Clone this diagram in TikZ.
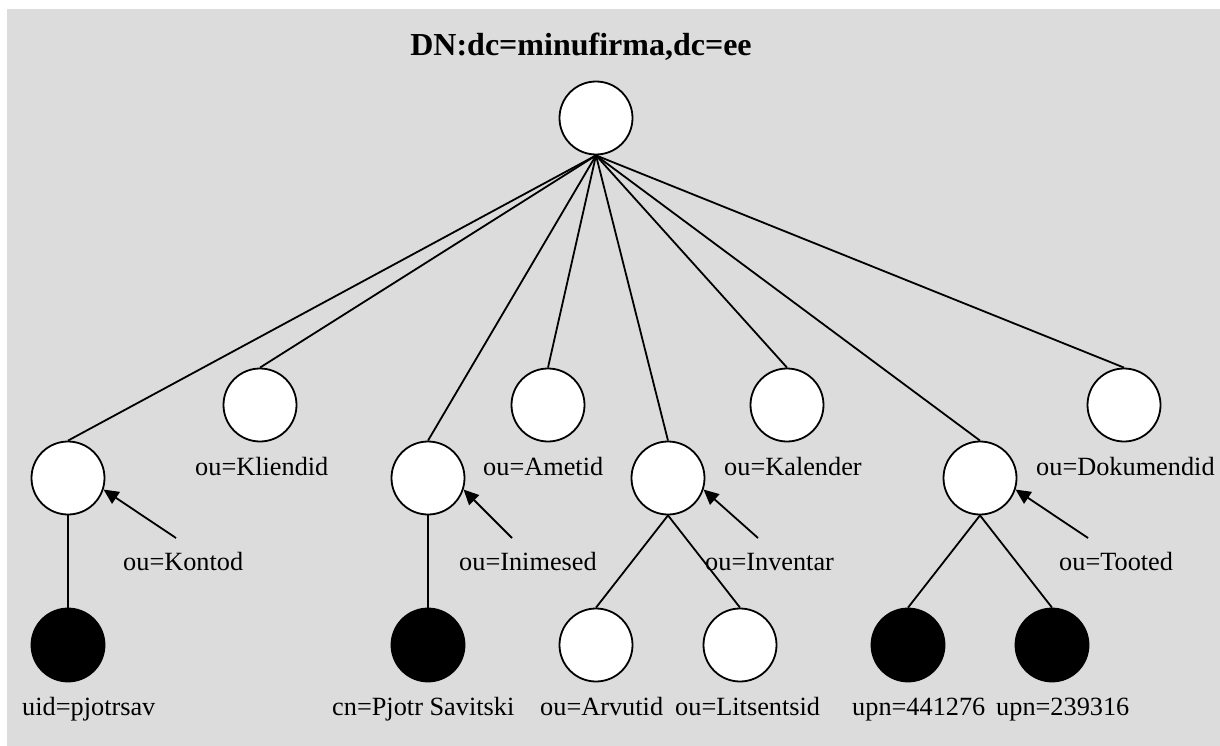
\documentclass[tikz,border=0pt]{standalone}
\usepackage{fontspec}
\setmainfont{Liberation Serif}
\usetikzlibrary{arrows.meta}
\definecolor{bg}{HTML}{DCDCDC}
\begin{document}
\begin{tikzpicture}[x=1pt,y=-1pt,
  wnode/.style={circle,draw,line width=1.8pt,fill=white,minimum size=73pt,inner sep=0pt},
  bnode/.style={wnode,fill=black},
  lbl/.style={anchor=base west,inner sep=0pt,font=\fontsize{26.3}{30}\selectfont},
  edge/.style={line width=1.8pt},
  pointer/.style={line width=1.8pt,-{Triangle[length=15pt,width=14pt]}}]
\useasboundingbox (0,0) rectangle (1220,746);
\fill[bg] (7,9) rectangle (1220,746);
\node[font=\fontsize{32}{36}\selectfont\bfseries] (title) at (581,47) {DN:dc=minufirma,dc=ee};
\node[wnode] (root) at (596,118) {};
% level 1
\node[wnode] (kontod) at (68,478) {};
\node[wnode] (kliendid) at (260,405) {};
\node[wnode] (inimesed) at (428,478) {};
\node[wnode] (ametid) at (548,405) {};
\node[wnode] (inventar) at (668,478) {};
\node[wnode] (kalender) at (787,405) {};
\node[wnode] (tooted) at (980,478) {};
\node[wnode] (dokumendid) at (1124,405) {};
% leaves
\node[bnode] (pjotrsav) at (68,645) {};
\node[bnode] (savitski) at (428,645) {};
\node[wnode] (arvutid) at (596,645) {};
\node[wnode] (litsentsid) at (740,645) {};
\node[bnode] (u441) at (908,645) {};
\node[bnode] (u239) at (1052,645) {};
% edges
\foreach \c in {kontod,kliendid,inimesed,ametid,inventar,kalender,tooted,dokumendid}
  \draw[edge] (root.south) -- (\c.north);
\draw[edge] (kontod.south) -- (pjotrsav.north);
\draw[edge] (inimesed.south) -- (savitski.north);
\draw[edge] (inventar.south) -- (arvutid.north);
\draw[edge] (inventar.south) -- (litsentsid.north);
\draw[edge] (tooted.south) -- (u441.north);
\draw[edge] (tooted.south) -- (u239.north);
% labels under upper circles
\node[lbl] (lkliendid) at (195,475) {ou=Kliendid};
\node[lbl] (lametid) at (483,475) {ou=Ametid};
\node[lbl] (lkalender) at (724,475) {ou=Kalender};
\node[lbl] (ldokumendid) at (1036,475) {ou=Dokumendid};
% pointer labels
\node[lbl] (lkontod) at (123,570) {ou=Kontod};
\node[lbl] (linimesed) at (459,570) {ou=Inimesed};
\node[lbl] (linventar) at (705,570) {ou=Inventar};
\node[lbl] (ltooted) at (1059,570) {ou=Tooted};
\coordinate (tkontod) at (176,538);
\coordinate (tinimesed) at (512,538);
\coordinate (tinventar) at (758,538);
\coordinate (ttooted) at (1088,538);
\draw[pointer] (tkontod) -- (kontod.-18);
\draw[pointer] (tinimesed) -- (inimesed.-18);
\draw[pointer] (tinventar) -- (inventar.-18);
\draw[pointer] (ttooted) -- (tooted.-18);
% leaf labels
\node[lbl] (lpjotrsav) at (22,715) {uid=pjotrsav};
\node[lbl] (lsavitski) at (332,715) {cn=Pjotr Savitski};
\node[lbl] (larvutid) at (540,715) {ou=Arvutid};
\node[lbl] (llitsentsid) at (675,715) {ou=Litsentsid};
\node[lbl] (l441) at (852,715) {upn=441276};
\node[lbl] (l239) at (996,715) {upn=239316};
\end{tikzpicture}
\end{document}
